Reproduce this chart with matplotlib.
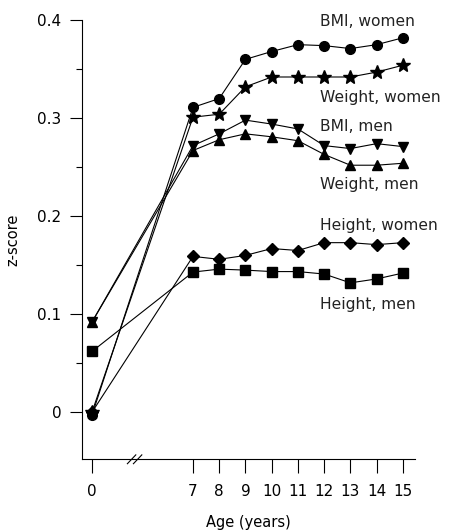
import numpy as np
import matplotlib.pyplot as plt

# ages and values
ages = [0, 7, 8, 9, 10, 11, 12, 13, 14, 15]
bmi_women = [-0.003, 0.311, 0.320, 0.360, 0.368, 0.375, 0.374, 0.371, 0.375, 0.382]
weight_women = [0.000, 0.301, 0.304, 0.332, 0.342, 0.342, 0.342, 0.342, 0.347, 0.354]
bmi_men = [0.092, 0.272, 0.284, 0.298, 0.294, 0.289, 0.272, 0.269, 0.274, 0.271]
weight_men = [0.092, 0.267, 0.278, 0.284, 0.281, 0.277, 0.263, 0.252, 0.252, 0.254]
height_women = [0.000, 0.159, 0.156, 0.160, 0.167, 0.165, 0.173, 0.173, 0.171, 0.173]
height_men = [0.062, 0.143, 0.146, 0.145, 0.1435, 0.1435, 0.141, 0.132, 0.136, 0.142]

labels = ['BMI, women', 'Weight, women', 'BMI, men', 'Weight, men', 'Height, women', 'Height, men']
label_y = [0.399, 0.321, 0.292, 0.232, 0.191, 0.110]

# age 0 is drawn closer to 7 (broken axis)
zero_pos = 3.15
xpos = np.array([zero_pos if a == 0 else a for a in ages])

fig = plt.figure(figsize=(4.53, 5.30), dpi=100)
ax = fig.add_axes([0.181, 0.1334, 0.735, 0.8286])

series = [
    (bmi_women, 'o', 7),
    (weight_women, '*', 10),
    (bmi_men, 'v', 7.5),
    (weight_men, '^', 7.5),
    (height_women, 'D', 6),
    (height_men, 's', 6.5),
]
for vals, m, ms in series:
    ax.plot(xpos, vals, color='black', lw=0.8, marker=m, ms=ms,
            markerfacecolor='black', markeredgecolor='black', clip_on=False)

for lab, y in zip(labels, label_y):
    ax.text(11.84, y, lab, ha='left', va='center', fontsize=11.2, color='#222222')

ax.set_xlim(2.77, 15.46)
ax.set_ylim(-0.048, 0.4)
ax.set_xticks(xpos)
ax.set_xticklabels([str(a) for a in ages], fontsize=11)
ax.set_yticks([0, 0.1, 0.2, 0.3, 0.4])
ax.set_yticklabels(['0', '0.1', '0.2', '0.3', '0.4'], fontsize=11)
ax.set_yticks([0.05, 0.15, 0.25, 0.35], minor=True)
ax.tick_params(axis='x', direction='out', length=10, width=0.8, pad=8)
ax.tick_params(axis='y', which='major', direction='out', length=9, width=0.8, pad=6)
ax.tick_params(axis='y', which='minor', direction='out', length=4, width=0.8)

for side in ['top', 'right']:
    ax.spines[side].set_visible(False)
for side in ['left', 'bottom']:
    ax.spines[side].set_linewidth(0.8)

# break marks on the x axis
for dx in [0, 0.23]:
    ax.plot([4.5 + dx, 4.82 + dx], [-0.0525, -0.0435], color='black', lw=0.8, clip_on=False)

ax.set_xlabel('Age (years)', fontsize=10.5, labelpad=11)
ax.set_ylabel('z-score', fontsize=10.5, labelpad=12)

fig.savefig('out.png', dpi=100)
